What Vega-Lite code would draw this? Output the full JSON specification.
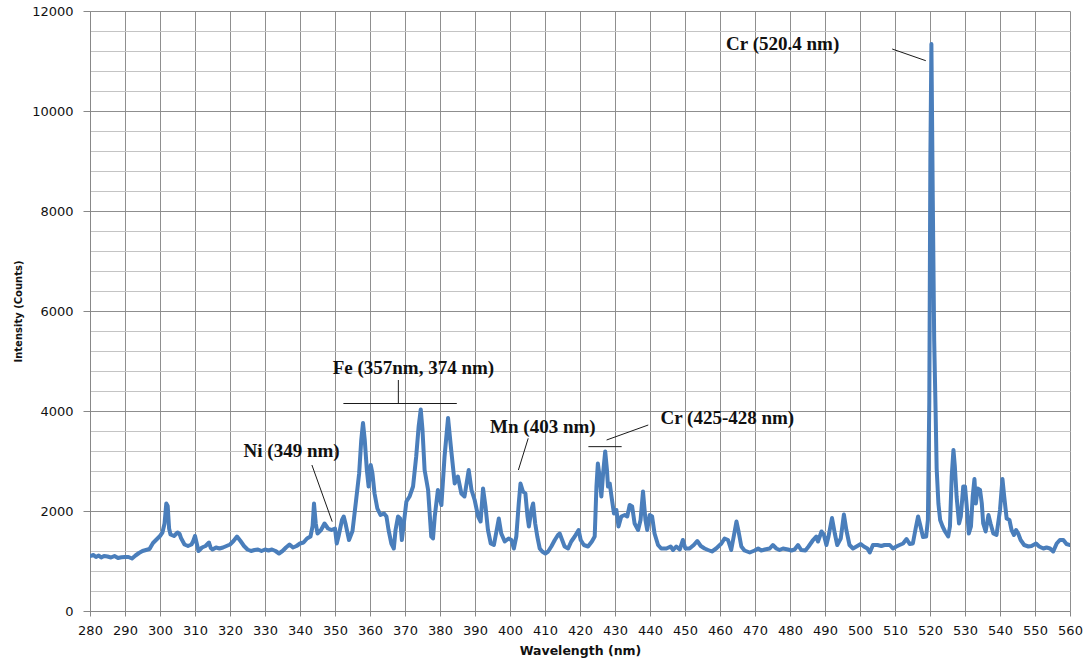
{
  "$schema": "https://vega.github.io/schema/vega-lite/v6.json",
  "width": 980,
  "height": 600,
  "autosize": {"type": "none"},
  "padding": {"left": 90, "top": 11, "right": 19, "bottom": 55},
  "background": "white",
  "config": {"view": {"stroke": null}},
  "datasets": {
    "spectrum": [
      {"wavelength": 280, "intensity": 1100}, {"wavelength": 281, "intensity": 1120}, {"wavelength": 281.7, "intensity": 1080}, {"wavelength": 282.5, "intensity": 1110},
      {"wavelength": 283.2, "intensity": 1070}, {"wavelength": 284, "intensity": 1100}, {"wavelength": 285, "intensity": 1090}, {"wavelength": 286, "intensity": 1070},
      {"wavelength": 287, "intensity": 1100}, {"wavelength": 288, "intensity": 1060}, {"wavelength": 289, "intensity": 1075}, {"wavelength": 290, "intensity": 1080},
      {"wavelength": 291, "intensity": 1080}, {"wavelength": 292, "intensity": 1050}, {"wavelength": 293, "intensity": 1110}, {"wavelength": 294, "intensity": 1160},
      {"wavelength": 295, "intensity": 1200}, {"wavelength": 296, "intensity": 1220}, {"wavelength": 297, "intensity": 1240}, {"wavelength": 298, "intensity": 1360},
      {"wavelength": 299, "intensity": 1430}, {"wavelength": 300, "intensity": 1500}, {"wavelength": 300.7, "intensity": 1570}, {"wavelength": 301.3, "intensity": 1750},
      {"wavelength": 301.8, "intensity": 2150}, {"wavelength": 302.2, "intensity": 2100}, {"wavelength": 302.6, "intensity": 1650}, {"wavelength": 303, "intensity": 1530},
      {"wavelength": 304, "intensity": 1500}, {"wavelength": 305, "intensity": 1570}, {"wavelength": 305.6, "intensity": 1540}, {"wavelength": 306, "intensity": 1460},
      {"wavelength": 307, "intensity": 1330}, {"wavelength": 308, "intensity": 1300}, {"wavelength": 309, "intensity": 1330}, {"wavelength": 309.5, "intensity": 1400},
      {"wavelength": 310, "intensity": 1500}, {"wavelength": 310.5, "intensity": 1350}, {"wavelength": 311, "intensity": 1200}, {"wavelength": 312, "intensity": 1270},
      {"wavelength": 313, "intensity": 1300}, {"wavelength": 314, "intensity": 1370}, {"wavelength": 314.5, "intensity": 1260}, {"wavelength": 315, "intensity": 1230},
      {"wavelength": 316, "intensity": 1270}, {"wavelength": 317, "intensity": 1250}, {"wavelength": 318, "intensity": 1270}, {"wavelength": 319, "intensity": 1300},
      {"wavelength": 320, "intensity": 1330}, {"wavelength": 321, "intensity": 1400}, {"wavelength": 322, "intensity": 1490}, {"wavelength": 323, "intensity": 1400},
      {"wavelength": 324, "intensity": 1300}, {"wavelength": 325, "intensity": 1230}, {"wavelength": 326, "intensity": 1200}, {"wavelength": 327, "intensity": 1220},
      {"wavelength": 328, "intensity": 1230}, {"wavelength": 329, "intensity": 1200}, {"wavelength": 330, "intensity": 1230}, {"wavelength": 331, "intensity": 1210},
      {"wavelength": 332, "intensity": 1230}, {"wavelength": 333, "intensity": 1200}, {"wavelength": 334, "intensity": 1150}, {"wavelength": 335, "intensity": 1200},
      {"wavelength": 336, "intensity": 1270}, {"wavelength": 337, "intensity": 1330}, {"wavelength": 338, "intensity": 1270}, {"wavelength": 339, "intensity": 1300},
      {"wavelength": 340, "intensity": 1350}, {"wavelength": 341, "intensity": 1370}, {"wavelength": 342, "intensity": 1450}, {"wavelength": 343, "intensity": 1490},
      {"wavelength": 343.6, "intensity": 1700}, {"wavelength": 344, "intensity": 2150}, {"wavelength": 344.5, "intensity": 1750}, {"wavelength": 345, "intensity": 1550},
      {"wavelength": 346, "intensity": 1620}, {"wavelength": 347, "intensity": 1750}, {"wavelength": 348, "intensity": 1650}, {"wavelength": 349, "intensity": 1620},
      {"wavelength": 350, "intensity": 1650}, {"wavelength": 350.5, "intensity": 1350}, {"wavelength": 351, "intensity": 1490}, {"wavelength": 352, "intensity": 1820},
      {"wavelength": 352.5, "intensity": 1890}, {"wavelength": 353, "intensity": 1750}, {"wavelength": 354, "intensity": 1420}, {"wavelength": 355, "intensity": 1600},
      {"wavelength": 356, "intensity": 2200}, {"wavelength": 356.9, "intensity": 2750}, {"wavelength": 357.5, "intensity": 3420}, {"wavelength": 358, "intensity": 3760},
      {"wavelength": 358.5, "intensity": 3420}, {"wavelength": 359.1, "intensity": 2820}, {"wavelength": 359.6, "intensity": 2490}, {"wavelength": 360.2, "intensity": 2920},
      {"wavelength": 360.7, "intensity": 2750}, {"wavelength": 361.3, "intensity": 2350}, {"wavelength": 362.1, "intensity": 2050}, {"wavelength": 363, "intensity": 1920},
      {"wavelength": 364, "intensity": 1950}, {"wavelength": 364.7, "intensity": 1890}, {"wavelength": 365.3, "intensity": 1620}, {"wavelength": 366.1, "intensity": 1350},
      {"wavelength": 366.8, "intensity": 1250}, {"wavelength": 367.3, "intensity": 1620}, {"wavelength": 368, "intensity": 1890}, {"wavelength": 368.6, "intensity": 1850},
      {"wavelength": 369.1, "intensity": 1420}, {"wavelength": 370.4, "intensity": 2190}, {"wavelength": 371.3, "intensity": 2290}, {"wavelength": 372.3, "intensity": 2490},
      {"wavelength": 373.2, "intensity": 3090}, {"wavelength": 373.9, "intensity": 3690}, {"wavelength": 374.5, "intensity": 4030}, {"wavelength": 375, "intensity": 3620},
      {"wavelength": 375.6, "intensity": 2820}, {"wavelength": 376.6, "intensity": 2420}, {"wavelength": 377.5, "intensity": 1490}, {"wavelength": 378, "intensity": 1450},
      {"wavelength": 378.5, "intensity": 1890}, {"wavelength": 379.4, "intensity": 2420}, {"wavelength": 380.4, "intensity": 2120}, {"wavelength": 381.3, "intensity": 3090},
      {"wavelength": 382.3, "intensity": 3860}, {"wavelength": 383.2, "intensity": 3220}, {"wavelength": 384.2, "intensity": 2550}, {"wavelength": 385.1, "intensity": 2690},
      {"wavelength": 386.1, "intensity": 2350}, {"wavelength": 387, "intensity": 2290}, {"wavelength": 388.2, "intensity": 2820}, {"wavelength": 389, "intensity": 2420},
      {"wavelength": 389.9, "intensity": 2220}, {"wavelength": 390.9, "intensity": 1890}, {"wavelength": 391.6, "intensity": 1790}, {"wavelength": 392.3, "intensity": 2450},
      {"wavelength": 393, "intensity": 2090}, {"wavelength": 393.7, "intensity": 1620}, {"wavelength": 394.5, "intensity": 1350}, {"wavelength": 395.4, "intensity": 1320},
      {"wavelength": 396.2, "intensity": 1620}, {"wavelength": 396.8, "intensity": 1850}, {"wavelength": 397.5, "intensity": 1550}, {"wavelength": 398.5, "intensity": 1390},
      {"wavelength": 399.6, "intensity": 1450}, {"wavelength": 400.4, "intensity": 1420}, {"wavelength": 401.1, "intensity": 1250}, {"wavelength": 401.8, "intensity": 1490},
      {"wavelength": 402.5, "intensity": 2150}, {"wavelength": 403, "intensity": 2550}, {"wavelength": 403.7, "intensity": 2390}, {"wavelength": 404.4, "intensity": 2350},
      {"wavelength": 405, "intensity": 1890}, {"wavelength": 405.4, "intensity": 1690}, {"wavelength": 406.1, "intensity": 2020}, {"wavelength": 406.6, "intensity": 2150},
      {"wavelength": 407.2, "intensity": 1750}, {"wavelength": 407.8, "intensity": 1490}, {"wavelength": 408.5, "intensity": 1250}, {"wavelength": 409.2, "intensity": 1190},
      {"wavelength": 410.1, "intensity": 1150}, {"wavelength": 410.9, "intensity": 1190}, {"wavelength": 411.8, "intensity": 1290}, {"wavelength": 412.8, "intensity": 1420},
      {"wavelength": 413.7, "intensity": 1520}, {"wavelength": 414.2, "intensity": 1550}, {"wavelength": 414.9, "intensity": 1420}, {"wavelength": 415.6, "intensity": 1290},
      {"wavelength": 416.6, "intensity": 1250}, {"wavelength": 417.5, "intensity": 1390}, {"wavelength": 418.5, "intensity": 1490}, {"wavelength": 419.6, "intensity": 1620},
      {"wavelength": 420.2, "intensity": 1420}, {"wavelength": 421.1, "intensity": 1320}, {"wavelength": 422.3, "intensity": 1290}, {"wavelength": 423.4, "intensity": 1390},
      {"wavelength": 424.2, "intensity": 1490}, {"wavelength": 424.7, "intensity": 2490}, {"wavelength": 425.1, "intensity": 2950}, {"wavelength": 425.6, "intensity": 2690},
      {"wavelength": 426.1, "intensity": 2290}, {"wavelength": 426.6, "intensity": 2750}, {"wavelength": 427.2, "intensity": 3190}, {"wavelength": 427.7, "intensity": 2820},
      {"wavelength": 428, "intensity": 2490}, {"wavelength": 428.5, "intensity": 2550}, {"wavelength": 429, "intensity": 2290}, {"wavelength": 429.7, "intensity": 1950},
      {"wavelength": 430.4, "intensity": 2020}, {"wavelength": 431, "intensity": 1690}, {"wavelength": 431.8, "intensity": 1890}, {"wavelength": 432.8, "intensity": 1920},
      {"wavelength": 433.5, "intensity": 1890}, {"wavelength": 434.2, "intensity": 2120}, {"wavelength": 434.9, "intensity": 2090}, {"wavelength": 435.6, "intensity": 1750},
      {"wavelength": 436.6, "intensity": 1620}, {"wavelength": 437.3, "intensity": 1820}, {"wavelength": 438, "intensity": 2390}, {"wavelength": 438.7, "intensity": 1820},
      {"wavelength": 439.2, "intensity": 1620}, {"wavelength": 439.9, "intensity": 1920}, {"wavelength": 440.6, "intensity": 1890}, {"wavelength": 441.3, "intensity": 1550},
      {"wavelength": 442.3, "intensity": 1320}, {"wavelength": 443.2, "intensity": 1250}, {"wavelength": 444.7, "intensity": 1250}, {"wavelength": 445.9, "intensity": 1290},
      {"wavelength": 446.6, "intensity": 1220}, {"wavelength": 447.5, "intensity": 1290}, {"wavelength": 448.5, "intensity": 1230}, {"wavelength": 449.4, "intensity": 1420},
      {"wavelength": 450.1, "intensity": 1250}, {"wavelength": 451.3, "intensity": 1250}, {"wavelength": 452.5, "intensity": 1320}, {"wavelength": 453.5, "intensity": 1400},
      {"wavelength": 454.5, "intensity": 1300}, {"wavelength": 455.6, "intensity": 1250}, {"wavelength": 456.6, "intensity": 1220}, {"wavelength": 457.7, "intensity": 1190},
      {"wavelength": 458.9, "intensity": 1250}, {"wavelength": 460.4, "intensity": 1350}, {"wavelength": 461.3, "intensity": 1450}, {"wavelength": 462.3, "intensity": 1420},
      {"wavelength": 463.2, "intensity": 1220}, {"wavelength": 464, "intensity": 1520}, {"wavelength": 464.7, "intensity": 1790}, {"wavelength": 465.3, "intensity": 1590},
      {"wavelength": 466.1, "intensity": 1290}, {"wavelength": 467, "intensity": 1210}, {"wavelength": 468.5, "intensity": 1170}, {"wavelength": 469.9, "intensity": 1210},
      {"wavelength": 470.9, "intensity": 1250}, {"wavelength": 471.8, "intensity": 1210}, {"wavelength": 472.8, "intensity": 1230}, {"wavelength": 474.2, "intensity": 1250},
      {"wavelength": 475.1, "intensity": 1320}, {"wavelength": 476.1, "intensity": 1250}, {"wavelength": 477, "intensity": 1220}, {"wavelength": 478, "intensity": 1250},
      {"wavelength": 479.4, "intensity": 1230}, {"wavelength": 480.4, "intensity": 1210}, {"wavelength": 481.3, "intensity": 1230}, {"wavelength": 482.3, "intensity": 1320},
      {"wavelength": 483.2, "intensity": 1220}, {"wavelength": 484.4, "intensity": 1210}, {"wavelength": 485.3, "intensity": 1290}, {"wavelength": 486.6, "intensity": 1420},
      {"wavelength": 487.5, "intensity": 1490}, {"wavelength": 488, "intensity": 1390}, {"wavelength": 489, "intensity": 1590}, {"wavelength": 489.7, "intensity": 1520},
      {"wavelength": 490.4, "intensity": 1320}, {"wavelength": 491, "intensity": 1490}, {"wavelength": 492, "intensity": 1860}, {"wavelength": 492.8, "intensity": 1550},
      {"wavelength": 493.5, "intensity": 1320}, {"wavelength": 494.5, "intensity": 1450}, {"wavelength": 495.4, "intensity": 1930}, {"wavelength": 496.1, "intensity": 1620},
      {"wavelength": 497, "intensity": 1320}, {"wavelength": 498, "intensity": 1250}, {"wavelength": 499, "intensity": 1290}, {"wavelength": 500.2, "intensity": 1340},
      {"wavelength": 501.1, "intensity": 1290}, {"wavelength": 502.1, "intensity": 1250}, {"wavelength": 502.8, "intensity": 1170}, {"wavelength": 503.7, "intensity": 1320},
      {"wavelength": 505, "intensity": 1320}, {"wavelength": 506.1, "intensity": 1300}, {"wavelength": 507, "intensity": 1320}, {"wavelength": 508.5, "intensity": 1320},
      {"wavelength": 509.4, "intensity": 1250}, {"wavelength": 510.4, "intensity": 1290}, {"wavelength": 511.3, "intensity": 1320}, {"wavelength": 512.3, "intensity": 1350},
      {"wavelength": 513.3, "intensity": 1440}, {"wavelength": 514.2, "intensity": 1340}, {"wavelength": 515.1, "intensity": 1350}, {"wavelength": 515.9, "intensity": 1650},
      {"wavelength": 516.6, "intensity": 1890}, {"wavelength": 517.2, "intensity": 1720}, {"wavelength": 518, "intensity": 1480}, {"wavelength": 518.9, "intensity": 1490},
      {"wavelength": 519.4, "intensity": 1820}, {"wavelength": 519.8, "intensity": 4200}, {"wavelength": 520.1, "intensity": 9000}, {"wavelength": 520.4, "intensity": 11340},
      {"wavelength": 520.8, "intensity": 8200}, {"wavelength": 521.2, "intensity": 5400}, {"wavelength": 521.6, "intensity": 4000}, {"wavelength": 521.9, "intensity": 2850},
      {"wavelength": 522.4, "intensity": 2150}, {"wavelength": 522.9, "intensity": 1820}, {"wavelength": 523.6, "intensity": 1690}, {"wavelength": 524.3, "intensity": 1590},
      {"wavelength": 525.2, "intensity": 1490}, {"wavelength": 525.7, "intensity": 1690}, {"wavelength": 526.2, "intensity": 2690}, {"wavelength": 526.7, "intensity": 3220},
      {"wavelength": 527.1, "intensity": 2890}, {"wavelength": 527.6, "intensity": 2290}, {"wavelength": 528.3, "intensity": 1750}, {"wavelength": 528.8, "intensity": 1890},
      {"wavelength": 529.5, "intensity": 2490}, {"wavelength": 530, "intensity": 2490}, {"wavelength": 530.5, "intensity": 2090}, {"wavelength": 531.1, "intensity": 1550},
      {"wavelength": 531.7, "intensity": 1690}, {"wavelength": 532.2, "intensity": 2290}, {"wavelength": 532.7, "intensity": 2640}, {"wavelength": 533.1, "intensity": 2150},
      {"wavelength": 533.6, "intensity": 2450}, {"wavelength": 534.3, "intensity": 2420}, {"wavelength": 534.8, "intensity": 2150}, {"wavelength": 535.2, "intensity": 1750},
      {"wavelength": 535.9, "intensity": 1590}, {"wavelength": 536.7, "intensity": 1920}, {"wavelength": 537.3, "intensity": 1750}, {"wavelength": 538.1, "intensity": 1550},
      {"wavelength": 539, "intensity": 1520}, {"wavelength": 540, "intensity": 2020}, {"wavelength": 540.7, "intensity": 2640}, {"wavelength": 541.2, "intensity": 2290},
      {"wavelength": 541.9, "intensity": 1850}, {"wavelength": 542.7, "intensity": 1820}, {"wavelength": 543.3, "intensity": 1620}, {"wavelength": 544, "intensity": 1520},
      {"wavelength": 544.6, "intensity": 1620}, {"wavelength": 545.2, "intensity": 1550}, {"wavelength": 545.9, "intensity": 1420}, {"wavelength": 546.9, "intensity": 1320},
      {"wavelength": 548.1, "intensity": 1290}, {"wavelength": 549, "intensity": 1300}, {"wavelength": 550.3, "intensity": 1350}, {"wavelength": 551.2, "intensity": 1290},
      {"wavelength": 552.4, "intensity": 1250}, {"wavelength": 553.3, "intensity": 1270}, {"wavelength": 554.3, "intensity": 1250}, {"wavelength": 555.2, "intensity": 1190},
      {"wavelength": 556.2, "intensity": 1350}, {"wavelength": 557.1, "intensity": 1420}, {"wavelength": 558.1, "intensity": 1420}, {"wavelength": 559, "intensity": 1340},
      {"wavelength": 560, "intensity": 1320}
    ],
    "leaders": [
      {"wavelength": 509.2, "intensity": 11240, "wavelength2": 518.8, "intensity2": 11006},
      {"wavelength": 352.4, "intensity": 4150, "wavelength2": 384.8, "intensity2": 4150},
      {"wavelength": 368.1, "intensity": 4620, "wavelength2": 368.1, "intensity2": 4150},
      {"wavelength": 405.2, "intensity": 3453, "wavelength2": 402.4, "intensity2": 2820},
      {"wavelength": 439.5, "intensity": 3720, "wavelength2": 427.6, "intensity2": 3420},
      {"wavelength": 422.4, "intensity": 3287, "wavelength2": 431.9, "intensity2": 3287},
      {"wavelength": 343.4, "intensity": 2920, "wavelength2": 349.2, "intensity2": 1787}
    ],
    "labels": [
      {"wavelength": 477.9, "intensity": 11340, "label": "Cr (520.4 nm)"},
      {"wavelength": 372.4, "intensity": 4860, "label": "Fe (357nm, 374 nm)"},
      {"wavelength": 409.4, "intensity": 3680, "label": "Mn (403 nm)"},
      {"wavelength": 462.1, "intensity": 3860, "label": "Cr (425-428 nm)"},
      {"wavelength": 337.6, "intensity": 3200, "label": "Ni (349 nm)"}
    ]
  },
  "encoding": {
    "x": {
      "field": "wavelength", "type": "quantitative",
      "scale": {"domain": [280, 560], "nice": false, "zero": false},
      "axis": {
        "values": [280, 290, 300, 310, 320, 330, 340, 350, 360, 370, 380, 390, 400, 410, 420, 430, 440, 450, 460, 470, 480, 490, 500, 510, 520, 530, 540, 550, 560],
        "format": "d",
        "grid": true, "gridColor": "#8f8f8f", "gridWidth": 1,
        "domainColor": "#888888", "tickColor": "#888888", "tickSize": 5,
        "labelFont": "DejaVu Sans", "labelFontSize": 13, "labelColor": "#111111",
        "labelPadding": 8, "labelFlush": false, "labelOverlap": false, "labelBound": false,
        "title": "Wavelength (nm)", "titleFont": "DejaVu Sans", "titleFontWeight": "bold",
        "titleFontSize": 12.5, "titleColor": "#111111", "titlePadding": 7
      }
    },
    "y": {
      "field": "intensity", "type": "quantitative",
      "scale": {"domain": [0, 12000], "nice": false},
      "axis": {
        "values": [0, 400, 800, 1200, 1600, 2000, 2400, 2800, 3200, 3600, 4000, 4400, 4800, 5200, 5600, 6000, 6400, 6800, 7200, 7600, 8000, 8400, 8800, 9200, 9600, 10000, 10400, 10800, 11200, 11600, 12000],
        "format": "d",
        "labelExpr": "datum.value % 2000 === 0 ? datum.label : ''",
        "grid": true,
        "gridColor": {"condition": {"test": "datum.value % 2000 === 0", "value": "#8f8f8f"}, "value": "#c4c4c4"},
        "gridWidth": 1,
        "domainColor": "#888888",
        "tickColor": "#888888",
        "tickOpacity": {"condition": {"test": "datum.value % 2000 === 0", "value": 1}, "value": 0},
        "tickSize": 7,
        "labelFont": "DejaVu Sans", "labelFontSize": 13, "labelColor": "#111111",
        "labelPadding": 10, "labelOverlap": false, "labelBound": false,
        "title": "Intensity (Counts)", "titleFont": "DejaVu Sans", "titleFontWeight": "bold",
        "titleFontSize": 10, "titleColor": "#111111", "titlePadding": 8
      }
    }
  },
  "layer": [
    {
      "data": {"name": "spectrum"},
      "mark": {"type": "line", "color": "#4a7ebb", "strokeWidth": 4, "strokeJoin": "round", "strokeCap": "round", "clip": true}
    },
    {
      "data": {"name": "leaders"},
      "mark": {"type": "rule", "color": "#1a1a1a", "strokeWidth": 1},
      "encoding": {
        "x2": {"field": "wavelength2"},
        "y2": {"field": "intensity2"}
      }
    },
    {
      "data": {"name": "labels"},
      "mark": {"type": "text", "font": "Liberation Serif", "fontWeight": "bold", "fontSize": 19, "align": "center", "baseline": "middle", "color": "#111111"},
      "encoding": {
        "text": {"field": "label"}
      }
    }
  ]
}
